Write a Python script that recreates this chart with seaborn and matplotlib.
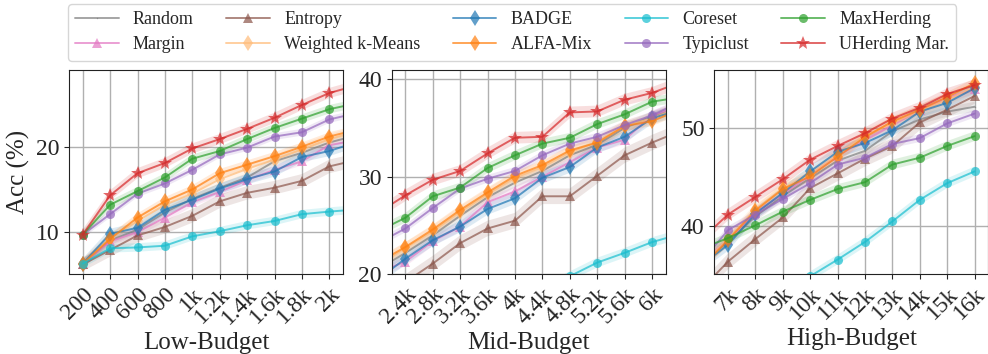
import numpy as np
import pandas as pd
import seaborn as sns
import matplotlib.pyplot as plt

# budgets across the three panels (one continuous series per method)
low_budgets = [200, 400, 600, 800, 1000, 1200, 1400, 1600, 1800, 2000]
mid_budgets = [2400, 2800, 3200, 3600, 4000, 4400, 4800, 5200, 5600, 6000]
high_budgets = [7000, 8000, 9000, 10000, 11000, 12000, 13000, 14000, 15000, 16000]
budgets = low_budgets + mid_budgets + high_budgets

low_labels = ["200", "400", "600", "800", "1k", "1.2k", "1.4k", "1.6k", "1.8k", "2k"]
mid_labels = ["2.4k", "2.8k", "3.2k", "3.6k", "4k", "4.4k", "4.8k", "5.2k", "5.6k", "6k"]
high_labels = ["7k", "8k", "9k", "10k", "11k", "12k", "13k", "14k", "15k", "16k"]

methods = ["Random", "Margin", "Entropy", "Weighted k-Means", "BADGE",
           "ALFA-Mix", "Coreset", "Typiclust", "MaxHerding", "UHerding Mar."]

random_acc = [6.3, 9.0, 10.3, 12.3, 13.9, 15.2, 16.4, 18.3, 19.3, 20.5,
              22.2, 24.0, 26.0, 27.9, 29.4, 30.6, 32.2, 33.3, 35.0, 36.2,
              38.4, 41.0, 43.1, 44.9, 46.7, 47.7, 49.7, 50.9, 51.7, 52.2]
margin_acc = [6.3, 8.9, 10.0, 11.7, 13.5, 14.7, 16.1, 17.3, 18.3, 20.2,
              21.3, 23.4, 24.9, 27.4, 28.5, 30.0, 31.5, 33.0, 33.8, 36.3,
              38.6, 41.4, 43.3, 45.2, 47.2, 48.8, 50.3, 51.9, 53.1, 54.0]
entropy_acc = [6.2, 7.9, 9.6, 10.6, 11.9, 13.6, 14.6, 15.2, 16.0, 17.7,
               19.2, 21.1, 23.2, 24.7, 25.5, 28.0, 28.0, 30.1, 32.2, 33.5,
               36.4, 38.7, 40.9, 43.9, 45.4, 46.9, 48.2, 50.6, 51.9, 53.3]
wkmeans_acc = [6.3, 9.3, 11.3, 13.2, 14.5, 16.2, 17.4, 18.5, 19.7, 20.9,
               22.7, 24.4, 26.4, 28.2, 29.9, 31.0, 32.5, 33.6, 35.2, 36.0,
               38.7, 41.7, 43.9, 45.3, 47.3, 49.3, 50.5, 51.8, 52.9, 54.2]
badge_acc = [6.3, 9.8, 10.5, 12.6, 13.8, 15.1, 16.2, 17.1, 18.8, 19.5,
             21.6, 23.5, 24.9, 26.7, 27.8, 29.9, 31.0, 33.0, 34.1, 36.0,
             38.1, 41.3, 43.4, 45.6, 47.6, 48.5, 49.8, 51.7, 52.6, 54.1]
alfamix_acc = [6.3, 9.2, 11.7, 13.6, 15.0, 16.9, 17.9, 18.9, 20.0, 21.2,
               22.8, 24.6, 26.6, 28.4, 30.1, 31.2, 32.7, 33.5, 35.2, 35.7,
               38.6, 41.6, 43.8, 45.1, 47.1, 49.1, 50.7, 51.9, 53.2, 54.6]
coreset_acc = [6.3, 8.1, 8.2, 8.4, 9.5, 10.1, 10.8, 11.3, 12.1, 12.4,
               12.9, 13.8, 14.8, 16.0, 17.2, 18.5, 19.8, 21.2, 22.2, 23.3,
               25.3, 28.2, 31.5, 34.9, 36.6, 38.4, 40.5, 42.7, 44.4, 45.6]
typiclust_acc = [9.7, 12.1, 14.5, 15.7, 17.3, 19.1, 19.9, 21.2, 21.7, 23.2,
                 24.7, 26.8, 28.8, 29.8, 30.6, 32.2, 33.4, 34.1, 35.3, 36.3,
                 39.6, 41.2, 42.8, 44.4, 46.3, 47.0, 48.4, 49.0, 50.5, 51.5]
maxherding_acc = [9.7, 13.2, 14.8, 16.4, 18.6, 19.5, 20.9, 22.2, 23.3, 24.4,
                  25.8, 28.0, 28.9, 30.9, 32.2, 33.4, 34.0, 35.4, 36.4, 37.7,
                  38.8, 40.1, 41.5, 42.7, 43.8, 44.5, 46.3, 47.0, 48.2, 49.2]
uherding_acc = [9.7, 14.3, 16.9, 18.1, 19.8, 20.9, 22.1, 23.4, 24.9, 26.3,
                28.1, 29.7, 30.6, 32.4, 34.0, 34.1, 36.6, 36.7, 37.9, 38.6,
                41.2, 43.0, 44.8, 46.8, 48.2, 49.5, 51.0, 52.1, 53.5, 54.4]

# rough band half-widths (std) per method
stds = [0.5, 0.5, 0.8, 0.6, 0.6, 0.5, 0.5, 0.4, 0.5, 0.6]

accs = [random_acc, margin_acc, entropy_acc, wkmeans_acc, badge_acc,
        alfamix_acc, coreset_acc, typiclust_acc, maxherding_acc, uherding_acc]

colors = ["tab:gray", "tab:pink", "tab:brown", "#ffbb78", "tab:blue",
          "tab:orange", "tab:cyan", "tab:purple", "tab:green", "tab:red"]
markers = [".", "^", "^", "d", "d", "d", "o", "o", "o", "*"]
msizes = [2, 7, 7, 8, 8, 8, 6.5, 6.5, 6.5, 10.5]

sns.set_style("ticks")
plt.rcParams["font.family"] = "serif"
plt.rcParams["font.serif"] = ["Liberation Serif", "DejaVu Serif"]

fig, axes = plt.subplots(1, 3, figsize=(9.88, 3.54), dpi=100)

panels = [
    (axes[0], low_budgets, low_labels, (100, 2100), (5.05, 29.0), [10, 20], "Low-Budget"),
    (axes[1], mid_budgets, mid_labels, (2200, 6200), (20.1, 40.95), [20, 30, 40], "Mid-Budget"),
    (axes[2], high_budgets, high_labels, (6500, 16500), (35.1, 55.95), [40, 50], "High-Budget"),
]
lefts = [69 / 988, 391.7 / 988, 714.3 / 988]

for (ax, ticks, labels, xlim, ylim, yticks, xlabel), left in zip(panels, lefts):
    ax.set_position([left, 1 - 274.3 / 354, 274 / 988, 204.3 / 354])
    for name, acc, sd, c, m, ms in zip(methods, accs, stds, colors, markers, msizes):
        df = pd.DataFrame({"budget": budgets, "acc": acc})
        acc_arr = np.array(acc)
        ax.fill_between(budgets, acc_arr - sd, acc_arr + sd, color=c,
                        alpha=0.15, linewidth=0)
        sns.lineplot(data=df, x="budget", y="acc", ax=ax, color=c, marker=m,
                     markersize=ms, markeredgewidth=0, linewidth=1.4,
                     alpha=0.7, label=name, legend=False)
    ax.set_xlim(*xlim)
    ax.set_ylim(*ylim)
    ax.set_xticks(ticks)
    ax.set_xticklabels(labels, rotation=45, ha="right", rotation_mode="anchor",
                       fontsize=17)
    ax.set_yticks(yticks)
    ax.tick_params(axis="y", labelsize=17)
    ax.grid(True, color="#b0b0b0", linewidth=1.0)
    ax.set_axisbelow(True)
    ax.set_xlabel(xlabel, fontsize=18, labelpad=3)
    ax.set_ylabel("")
    for s in ax.spines.values():
        s.set_color("#222222")

axes[0].set_ylabel("Acc (%)", fontsize=18)

handles, labs = axes[0].get_legend_handles_labels()
fig.legend(handles, labs, loc="upper left", bbox_to_anchor=(68 / 988, 1 - 4 / 354),
           ncol=5, fontsize=13, frameon=True, fancybox=True, edgecolor="#cccccc",
           handlelength=2.4, handletextpad=0.8, columnspacing=1.8,
           borderaxespad=0, labelspacing=0.45)

plt.savefig("out.png", dpi=100)
